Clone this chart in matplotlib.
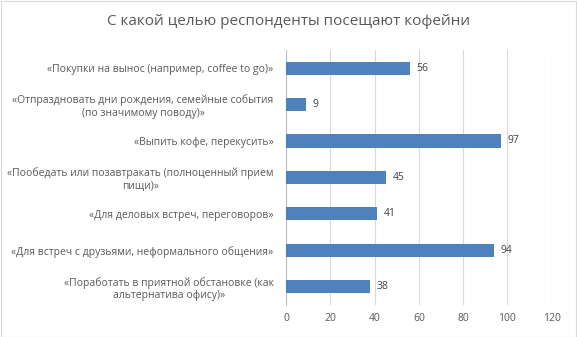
import matplotlib
matplotlib.use("Agg")
import matplotlib.pyplot as plt

categories = [
    "«Покупки на вынос (например, coffee to go)»",
    "«Отпраздновать дни рождения, семейные события\n(по значимому поводу)»",
    "«Выпить кофе, перекусить»",
    "«Пообедать или позавтракать (полноценный прием\nпищи)»",
    "«Для деловых встреч, переговоров»",
    "«Для встреч с друзьями, неформального общения»",
    "«Поработать в приятной обстановке (как\nальтернатива офису)»",
]
values = [56, 9, 97, 45, 41, 94, 38]
xticks = [0, 20, 40, 60, 80, 100, 120]
title = "С какой целью респонденты посещают кофейни"

plt.rcParams['font.family'] = ['Open Sans', 'DejaVu Sans']
fig = plt.figure(figsize=(5.77, 3.37), dpi=100)
ax = fig.add_axes([0.496, 0.095, 0.46, 0.757])

pos = list(range(len(categories)))
ax.barh(pos, values, height=0.36, color='#4F81BD', zorder=3)
ax.set_ylim(len(categories) - 0.5, -0.5)
ax.set_xlim(0, 120)
ax.set_xticks(xticks)
ax.set_yticks(pos)
ax.set_yticklabels(categories, fontsize=7.5, color='#595959', multialignment='center')
ax.tick_params(axis='x', labelsize=7.5, colors='#595959', length=0, pad=6)
ax.tick_params(axis='y', length=0, pad=9)
ax.grid(axis='x', color='#D9D9D9', linewidth=0.8, zorder=0)
for s in ['top', 'right', 'bottom']:
    ax.spines[s].set_visible(False)
ax.spines['left'].set_color('#BFBFBF')
ax.spines['left'].set_linewidth(0.8)

for p, v in zip(pos, values):
    ax.text(v + 3, p, str(v), va='center', ha='left', fontsize=7.5, color='#404040')

fig.text(0.5, 0.935, title, ha='center', va='center', fontsize=11, color='#595959')

border = plt.Rectangle((0.001, 0.001), 0.997, 0.997, transform=fig.transFigure,
                       fill=False, edgecolor='#D9D9D9', linewidth=0.8)
fig.patches.append(border)

fig.savefig("out.png", dpi=100)
